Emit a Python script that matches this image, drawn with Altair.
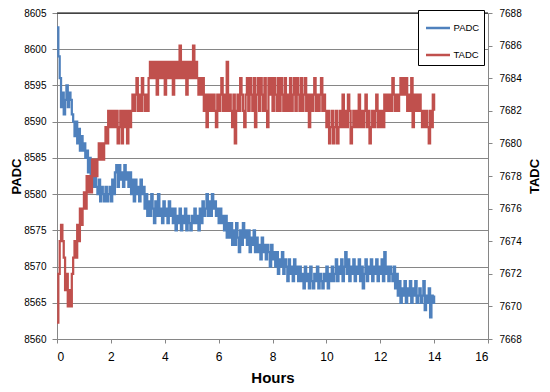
import altair as alt
import pandas as pd

STEP_HOURS = 0.05

padc = [
    8603, 8599, 8596, 8592, 8594, 8591, 8593, 8595, 8592, 8594,
    8593, 8591, 8590, 8588, 8590, 8587, 8589, 8586, 8588, 8586,
    8587, 8585, 8586, 8583, 8585, 8582, 8584, 8581, 8583, 8581,
    8580, 8582, 8579, 8581, 8580, 8579, 8581, 8579, 8580, 8581,
    8579, 8582, 8580, 8583, 8584, 8581, 8584, 8582, 8583, 8581,
    8584, 8582, 8583, 8581, 8583, 8580, 8582, 8579, 8582, 8580,
    8581, 8579, 8582, 8580, 8581, 8578, 8580, 8577, 8579, 8577,
    8580, 8578, 8576, 8579, 8577, 8580, 8577, 8578, 8576, 8579,
    8577, 8578, 8576, 8579, 8577, 8578, 8576, 8578, 8575, 8577,
    8576, 8578, 8575, 8577, 8576, 8578, 8575, 8577, 8576, 8575,
    8577, 8576, 8578, 8576, 8577, 8575, 8578, 8576, 8579, 8577,
    8578, 8580, 8577, 8579, 8577, 8580, 8578, 8579, 8577, 8578,
    8576, 8578, 8576, 8577, 8575, 8577, 8574, 8576, 8574, 8576,
    8573, 8575, 8573, 8576, 8574, 8572, 8575, 8573, 8576, 8574,
    8575, 8573, 8575, 8572, 8574, 8573, 8575, 8572, 8574, 8572,
    8573, 8571, 8574, 8572, 8573, 8571, 8573, 8572, 8570, 8573,
    8571, 8572, 8570, 8572, 8569, 8571, 8570, 8572, 8569, 8571,
    8570, 8568, 8571, 8569, 8570, 8568, 8571, 8569, 8570, 8568,
    8570, 8568, 8569, 8567, 8570, 8568, 8569, 8567, 8570, 8568,
    8567, 8569, 8568, 8570, 8567, 8569, 8568, 8567, 8569, 8568,
    8570, 8567, 8569, 8568, 8570, 8568, 8569, 8571, 8568, 8570,
    8569, 8571, 8568, 8570, 8572, 8569, 8571, 8568, 8570, 8569,
    8571, 8568, 8570, 8569, 8571, 8568, 8570, 8567, 8569, 8571,
    8568, 8570, 8569, 8571, 8568, 8570, 8569, 8571, 8568, 8570,
    8569, 8571, 8568, 8572, 8569, 8570, 8568, 8570, 8569, 8568,
    8570, 8567, 8569, 8566, 8568, 8565, 8567, 8566, 8568, 8565,
    8567, 8566, 8568, 8565, 8567, 8566, 8568, 8565, 8566, 8567,
    8565, 8566, 8568, 8564, 8566, 8565, 8567, 8563, 8566, 8565,
    8566,
]

tadc = [
    7669, 7672, 7674, 7675, 7674, 7673, 7671, 7672, 7670, 7671,
    7670, 7672, 7673, 7674, 7673, 7675, 7674, 7676, 7675, 7676,
    7677, 7676, 7678, 7677, 7678, 7677, 7679, 7678, 7679, 7678,
    7679, 7680, 7679, 7680, 7679, 7680, 7681, 7680, 7682, 7681,
    7682, 7681, 7682, 7681, 7682, 7680, 7681, 7682, 7680, 7682,
    7681, 7682, 7680, 7682, 7681, 7682, 7683, 7682, 7683, 7684,
    7682, 7683, 7682, 7684, 7683, 7682, 7683, 7682, 7684, 7685,
    7684, 7685, 7684, 7685, 7683, 7685, 7684, 7685, 7684, 7685,
    7683, 7685, 7684, 7685, 7684, 7685, 7683, 7685, 7684, 7685,
    7684, 7686, 7684, 7685, 7684, 7685, 7683, 7685, 7684, 7685,
    7684, 7686, 7684, 7685, 7684, 7683, 7684, 7683, 7684, 7682,
    7683, 7681, 7683, 7682, 7683, 7682, 7683, 7682, 7681, 7683,
    7682, 7683, 7684, 7682, 7683, 7682, 7685, 7682, 7683, 7682,
    7681, 7683, 7680, 7682, 7683, 7682, 7684, 7683, 7682, 7681,
    7683, 7684, 7682, 7684, 7683, 7682, 7684, 7681, 7683, 7684,
    7682, 7684, 7683, 7682, 7684, 7682, 7681, 7684, 7683, 7684,
    7682, 7684, 7683, 7682, 7684, 7682, 7684, 7683, 7682, 7684,
    7682, 7683, 7682, 7684, 7682, 7683, 7684, 7682, 7684, 7683,
    7682, 7684, 7682, 7683, 7684, 7682, 7683, 7681, 7683, 7682,
    7683, 7684, 7682, 7683, 7682, 7683, 7684, 7682, 7683, 7682,
    7681, 7682, 7680, 7681, 7682, 7680, 7681, 7682, 7680, 7681,
    7682, 7681, 7683, 7681, 7682, 7681, 7683, 7682, 7680, 7681,
    7682, 7681, 7682, 7681, 7683, 7681, 7682, 7681, 7682, 7683,
    7681, 7682, 7680, 7681, 7682, 7681, 7682, 7683, 7681, 7682,
    7681, 7682, 7681, 7683, 7682, 7683, 7682, 7683, 7682, 7684,
    7683, 7682, 7683, 7682, 7683, 7684, 7683, 7684, 7683, 7684,
    7682, 7683, 7682, 7684, 7681, 7683, 7682, 7683, 7682, 7683,
    7682, 7681, 7682, 7681, 7682, 7681, 7680, 7682, 7681, 7683,
    7682,
]

hours = [round(i * STEP_HOURS, 2) for i in range(len(padc))]

series_names = ["PADC", "TADC"]
series_colors = ["#4F81BD", "#C0504D"]
x_ticks = [0, 2, 4, 6, 8, 10, 12, 14, 16]
padc_ticks = [8560, 8565, 8570, 8575, 8580, 8585, 8590, 8595, 8600, 8605]
tadc_ticks = [7668, 7670, 7672, 7674, 7676, 7678, 7680, 7682, 7684, 7686, 7688]

FONT = "Liberation Sans"
GRID = "#868686"
W, H = 431, 326

df_p = pd.DataFrame({"Hours": hours, "value": padc, "series": "PADC"})
df_t = pd.DataFrame({"Hours": hours, "value": tadc, "series": "TADC"})

color = alt.Color(
    "series:N",
    scale=alt.Scale(domain=series_names, range=series_colors),
    legend=alt.Legend(
        title=None,
        orient="none",
        legendX=361,
        legendY=-3,
        direction="vertical",
        strokeColor="black",
        fillColor="white",
        padding=4.5,
        symbolType="stroke",
        symbolSize=576,
        symbolStrokeWidth=2.5,
        symbolOffset=2,
        rowPadding=8,
        labelOffset=2,
        labelFont=FONT,
        labelFontSize=9.5,
        labelColor="black",
        cornerRadius=0,
    ),
)

x_enc = alt.X(
    "Hours:Q",
    scale=alt.Scale(domain=[0, 16], nice=False, zero=False),
    axis=alt.Axis(
        values=x_ticks,
        format="d",
        title="Hours",
        grid=False,
        labelFontSize=12,
        tickSize=4,
        labelPadding=8,
        titleFontSize=15,
        titleFontWeight="bold",
        titleBaseline="alphabetic",
        titleY=43,
    ),
)

p_line = alt.Chart(df_p).mark_line(strokeWidth=2.25, interpolate="step-after").encode(
    x=x_enc,
    y=alt.Y(
        "value:Q",
        scale=alt.Scale(domain=[8560, 8605], nice=False, zero=False),
        axis=alt.Axis(
            orient="left",
            values=padc_ticks,
            format="d",
            title="PADC",
            grid=True,
            gridColor=GRID,
            gridWidth=1,
            labelFontSize=10,
            tickSize=5,
            labelPadding=6,
            titleFontSize=13,
            titleFontWeight="bold",
            titleAngle=270,
            titleBaseline="alphabetic",
            titleX=-37,
            titleY=H / 2,
        ),
    ),
    color=color,
)

t_line = alt.Chart(df_t).mark_line(strokeWidth=2.25, interpolate="step-after").encode(
    x=x_enc,
    y=alt.Y(
        "value:Q",
        scale=alt.Scale(domain=[7668, 7688], nice=False, zero=False),
        axis=alt.Axis(
            orient="right",
            values=tadc_ticks,
            format="d",
            title="TADC",
            grid=False,
            labelFontSize=10,
            tickSize=4,
            labelPadding=7,
            titleFontSize=13,
            titleFontWeight="bold",
            titleAngle=270,
            titleBaseline="alphabetic",
            titleX=50,
            titleY=H / 2,
        ),
    ),
    color=color,
)

top_rule = alt.Chart(pd.DataFrame({"k": [0]})).mark_rule(
    color="black", strokeWidth=1
).encode(y=alt.value(0), x=alt.value(0), x2=alt.value(W))

chart = (
    alt.layer(p_line, t_line, top_rule)
    .resolve_scale(y="independent")
    .properties(
        width=W,
        height=H,
        autosize=alt.AutoSizeParams(type="none"),
        padding={"left": 49, "top": 5, "right": 54, "bottom": 45},
        background="white",
    )
    .configure_view(stroke=None)
    .configure_axis(
        domainColor=GRID,
        tickColor=GRID,
        labelColor="black",
        titleColor="black",
        labelFont=FONT,
        titleFont=FONT,
    )
)

chart.save("out.html", embed_options={"renderer": "svg", "actions": False})
